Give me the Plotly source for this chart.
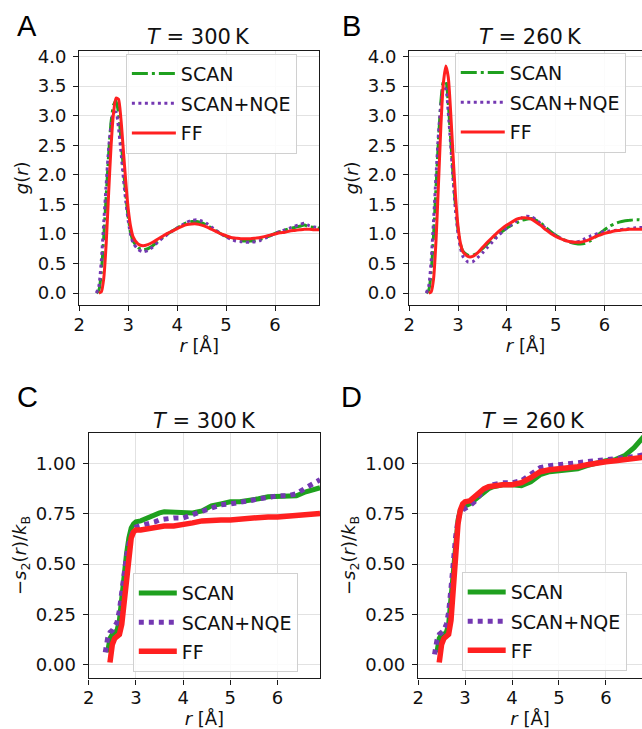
import plotly.graph_objects as go

# ---------------- data ----------------
r_g = [2.35, 2.40, 2.45, 2.50, 2.55, 2.60, 2.65, 2.70, 2.75, 2.80, 2.85, 2.90, 2.95, 3.00, 3.05, 3.10,
       3.20, 3.30, 3.40, 3.50, 3.60, 3.70, 3.80, 3.90, 4.00, 4.10, 4.20, 4.30, 4.40, 4.50, 4.60, 4.70,
       4.80, 4.90, 5.00, 5.10, 5.20, 5.30, 5.40, 5.50, 5.60, 5.70, 5.80, 5.90, 6.00, 6.10, 6.20, 6.30,
       6.40, 6.50, 6.60, 6.70, 6.80, 6.90]

g300_scan = [0.0, 0.05, 0.35, 0.95, 1.65, 2.35, 2.90, 3.18, 3.25, 3.05, 2.62, 2.12, 1.66, 1.28, 1.02, 0.88,
             0.77, 0.73, 0.75, 0.80, 0.87, 0.94, 1.00, 1.05, 1.10, 1.15, 1.19, 1.21, 1.21, 1.19, 1.15, 1.10,
             1.05, 1.00, 0.96, 0.93, 0.91, 0.89, 0.88, 0.88, 0.89, 0.91, 0.94, 0.97, 1.01, 1.04, 1.07, 1.09,
             1.11, 1.13, 1.15, 1.12, 1.11, 1.10]
g300_nqe = [0.0, 0.12, 0.55, 1.20, 1.85, 2.45, 2.85, 3.05, 3.06, 2.80, 2.40, 1.95, 1.55, 1.22, 0.98, 0.85,
            0.74, 0.70, 0.72, 0.78, 0.86, 0.93, 0.99, 1.05, 1.10, 1.15, 1.20, 1.23, 1.24, 1.22, 1.18, 1.12,
            1.06, 1.00, 0.95, 0.91, 0.88, 0.87, 0.86, 0.86, 0.87, 0.89, 0.93, 0.97, 1.01, 1.04, 1.07, 1.10,
            1.13, 1.16, 1.18, 1.14, 1.12, 1.11]
g300_ff = [None, 0.0, 0.02, 0.25, 0.85, 1.70, 2.50, 3.05, 3.30, 3.28, 2.95, 2.42, 1.88, 1.42, 1.12, 0.95,
           0.83, 0.80, 0.82, 0.86, 0.91, 0.96, 1.01, 1.05, 1.09, 1.13, 1.16, 1.17, 1.17, 1.15, 1.12, 1.08,
           1.04, 1.00, 0.97, 0.94, 0.93, 0.92, 0.92, 0.92, 0.93, 0.94, 0.96, 0.98, 1.00, 1.02, 1.03, 1.05,
           1.06, 1.07, 1.08, 1.08, 1.07, 1.07]

g260_scan = [0.0, 0.05, 0.35, 1.00, 1.80, 2.60, 3.25, 3.57, 3.58, 3.20, 2.60, 1.98, 1.45, 1.07, 0.83, 0.71,
             0.64, 0.64, 0.68, 0.75, 0.83, 0.91, 0.98, 1.04, 1.10, 1.15, 1.19, 1.23, 1.25, 1.26, 1.23, 1.18,
             1.11, 1.04, 0.98, 0.93, 0.89, 0.86, 0.84, 0.83, 0.84, 0.88, 0.94, 1.01, 1.07, 1.13, 1.17, 1.20,
             1.22, 1.23, 1.24, 1.24, 1.23, 1.23]
g260_nqe = [0.0, 0.12, 0.55, 1.25, 2.00, 2.70, 3.20, 3.48, 3.45, 3.05, 2.50, 1.90, 1.38, 1.00, 0.76, 0.62,
            0.53, 0.53, 0.60, 0.68, 0.77, 0.86, 0.95, 1.03, 1.10, 1.16, 1.22, 1.27, 1.30, 1.29, 1.24, 1.17,
            1.09, 1.02, 0.97, 0.93, 0.89, 0.87, 0.86, 0.88, 0.92, 0.96, 0.99, 1.02, 1.04, 1.05, 1.06, 1.07,
            1.08, 1.09, 1.10, 1.11, 1.11, 1.11]
g260_ff = [None, 0.0, 0.02, 0.25, 0.90, 1.85, 2.85, 3.55, 3.84, 3.65, 3.05, 2.30, 1.62, 1.13, 0.84, 0.70,
           0.62, 0.62, 0.68, 0.77, 0.86, 0.94, 1.02, 1.09, 1.15, 1.20, 1.25, 1.27, 1.27, 1.25, 1.20, 1.14,
           1.07, 1.01, 0.96, 0.92, 0.89, 0.87, 0.86, 0.86, 0.88, 0.91, 0.95, 0.98, 1.01, 1.03, 1.05, 1.06,
           1.07, 1.08, 1.08, 1.08, 1.08, 1.08]

r_s = [2.35, 2.40, 2.45, 2.50, 2.55, 2.60, 2.65, 2.70, 2.75, 2.80, 2.85, 2.90, 2.95, 3.00,
       3.10, 3.20, 3.30, 3.40, 3.50, 3.60,
       3.80, 4.00, 4.20, 4.40, 4.60, 4.80, 5.00, 5.20, 5.40, 5.60, 5.80, 6.00, 6.20, 6.40, 6.60, 6.80, 6.90]

s300_scan = [None, 0.06, 0.13, 0.15, 0.16, 0.17, 0.22, 0.34, 0.45, 0.55, 0.63, 0.68, 0.70, 0.71,
             0.715, 0.725, 0.74, 0.75, 0.755, 0.76,
             0.76, 0.76, 0.755, 0.765, 0.79, 0.80, 0.81, 0.81, 0.815, 0.825, 0.835, 0.835, 0.835, 0.84, 0.86, 0.87, 0.88]
s300_nqe = [0.06, 0.13, 0.16, 0.17, 0.19, 0.21, 0.27, 0.37, 0.46, 0.54, 0.60, 0.65, 0.675, 0.685,
            0.69, 0.70, 0.705, 0.71, 0.72, 0.725,
            0.73, 0.73, 0.745, 0.76, 0.78, 0.795, 0.80, 0.805, 0.815, 0.825, 0.835, 0.84, 0.84, 0.85, 0.88, 0.91, 0.92]
s300_ff = [None, None, 0.01, 0.10, 0.13, 0.14, 0.15, 0.20, 0.32, 0.45, 0.56, 0.63, 0.66, 0.67,
           0.67, 0.675, 0.68, 0.685, 0.69, 0.69,
           0.69, 0.695, 0.705, 0.715, 0.72, 0.72, 0.72, 0.725, 0.73, 0.73, 0.735, 0.735, 0.74, 0.74, 0.745, 0.75, 0.752]

s260_scan = [None, 0.06, 0.13, 0.15, 0.15, 0.16, 0.20, 0.33, 0.48, 0.62, 0.72, 0.77, 0.785, 0.79,
             0.80, 0.82, 0.84, 0.86, 0.875, 0.885,
             0.895, 0.895, 0.89, 0.91, 0.945, 0.96, 0.965, 0.965, 0.975, 0.99, 1.005, 1.015, 1.02, 1.04, 1.08, 1.13, 1.16]
s260_nqe = [0.05, 0.12, 0.15, 0.16, 0.17, 0.20, 0.26, 0.38, 0.52, 0.64, 0.72, 0.76, 0.77, 0.775,
            0.79, 0.81, 0.84, 0.87, 0.885, 0.895,
            0.905, 0.905, 0.915, 0.945, 0.98, 0.99, 0.995, 0.995, 1.0, 1.005, 1.01, 1.015, 1.02, 1.025, 1.035, 1.045, 1.05]
s260_ff = [None, None, 0.01, 0.10, 0.13, 0.14, 0.15, 0.22, 0.40, 0.58, 0.70, 0.77, 0.80, 0.81,
           0.815, 0.835, 0.855, 0.875, 0.885, 0.89,
           0.895, 0.895, 0.905, 0.93, 0.96, 0.97, 0.975, 0.975, 0.985, 0.995, 1.005, 1.01, 1.015, 1.02, 1.025, 1.03, 1.035]

series_names = ["SCAN", "SCAN+NQE", "FF"]
panel_titles = ["<i>T</i> = 300\u2009K", "<i>T</i> = 260\u2009K",
                "<i>T</i> = 300\u2009K", "<i>T</i> = 260\u2009K"]
panel_letters = ["A", "B", "C", "D"]
g_ticks = [0.0, 0.5, 1.0, 1.5, 2.0, 2.5, 3.0, 3.5, 4.0]
s_ticks = [0.0, 0.25, 0.5, 0.75, 1.0]
r_ticks = [2, 3, 4, 5, 6]

# ---------------- styling ----------------
W, H = 642, 729
GREEN, PURPLE, RED = "#1fa01f", "#7438b2", "#ff2020"
FONT = "DejaVu Sans"


def fx(p):
    return p / W


def fy(p):
    return 1 - p / H


fig = go.Figure()

g_styles = [
    dict(color=GREEN, width=3, dash="16px,4px,3px,4px"),
    dict(color=PURPLE, width=3, dash="3px,3.5px"),
    dict(color=RED, width=3),
]
s_styles = [
    dict(color=GREEN, width=5),
    dict(color=PURPLE, width=5, dash="5px,5px"),
    dict(color=RED, width=5.5),
]

panels = [
    ("x", "y", "legend", r_g, [g300_scan, g300_nqe, g300_ff], g_styles, "spline"),
    ("x2", "y2", "legend2", r_g, [g260_scan, g260_nqe, g260_ff], g_styles, "spline"),
    ("x3", "y3", "legend3", r_s, [s300_scan, s300_nqe, s300_ff], s_styles, "linear"),
    ("x4", "y4", "legend4", r_s, [s260_scan, s260_nqe, s260_ff], s_styles, "linear"),
]

for pi, (xa, ya, lg, xs, ys_list, styles, shape) in enumerate(panels):
    for name, ys, st in zip(series_names, ys_list, styles):
        line = dict(st, shape=shape)
        if shape == "spline":
            line["smoothing"] = 0.6
        fig.add_trace(go.Scatter(
            x=xs, y=ys, mode="lines", name=name, line=line,
            xaxis=xa, yaxis=ya, legend=lg, legendgroup=f"{lg}-{name}",
        ))

axis_common = dict(
    showline=True, linecolor="#1a1a1a", linewidth=1.4,
    ticks="outside", ticklen=5, tickwidth=1.2, tickcolor="#1a1a1a",
    showgrid=True, gridcolor="#e2e2e2", gridwidth=1, zeroline=False,
    tickfont=dict(family=FONT, size=18, color="#111111"),
    title_font=dict(family=FONT, size=18, color="#111111"),
)
xa_extra = dict(ticklabelstandoff=-2)
ya_extra = dict(ticklabelstandoff=3)

xtitle = "<i>r</i> [Å]"
gtitle = "<i>g</i>(<i>r</i>)"
stitle = "−<i>s</i><sub>2</sub>(<i>r</i>)/<i>k</i><sub>B</sub>"

layout_axes = dict(
    xaxis=dict(axis_common, **xa_extra, domain=[fx(74), fx(316)], range=[2, 6.9], anchor="y",
               tickvals=r_ticks, mirror=True, title=dict(text=xtitle, standoff=3)),
    yaxis=dict(axis_common, **ya_extra, domain=[fy(302), fy(46)], range=[-0.2, 4.1], anchor="x",
               tickvals=g_ticks, tickformat=".1f", mirror=True, title=dict(text=gtitle, standoff=4)),
    xaxis2=dict(axis_common, **xa_extra, domain=[fx(407), 1.0], range=[2, 2 + (642 - 407) / 49.3], anchor="y2",
                tickvals=r_ticks, mirror=True, title=dict(text=xtitle, standoff=3)),
    yaxis2=dict(axis_common, **ya_extra, domain=[fy(302), fy(46)], range=[-0.2, 4.1], anchor="x2",
                tickvals=g_ticks, tickformat=".1f", title=dict(text=gtitle, standoff=4)),
    xaxis3=dict(axis_common, **xa_extra, domain=[fx(83.5), fx(317)], range=[2, 6.9], anchor="y3",
                tickvals=r_ticks, mirror=True, title=dict(text=xtitle, standoff=3)),
    yaxis3=dict(axis_common, **ya_extra, domain=[fy(678), fy(430.5)], range=[-0.069, 1.155], anchor="x3",
                tickvals=s_ticks, tickformat=".2f", mirror=True, title=dict(text=stitle, standoff=4)),
    xaxis4=dict(axis_common, **xa_extra, domain=[fx(416), 1.0], range=[2, 2 + (642 - 416) / 47.4], anchor="y4",
                tickvals=r_ticks, mirror=True, title=dict(text=xtitle, standoff=3)),
    yaxis4=dict(axis_common, **ya_extra, domain=[fy(678), fy(430.5)], range=[-0.069, 1.155], anchor="x4",
                tickvals=s_ticks, tickformat=".2f", title=dict(text=stitle, standoff=4)),
)

legend_common = dict(
    xanchor="left", yanchor="top", traceorder="grouped",
    font=dict(family=FONT, size=19, color="#111111"),
    bgcolor="rgba(255,255,255,0.85)", bordercolor="#d0d0d0", borderwidth=1,
)
legends = dict(
    legend=dict(legend_common, x=fx(121), y=fy(49), itemwidth=44, tracegroupgap=2),
    legend2=dict(legend_common, x=fx(453), y=fy(48), itemwidth=44, tracegroupgap=2),
    legend3=dict(legend_common, x=fx(128), y=fy(572), itemwidth=38, tracegroupgap=1.5),
    legend4=dict(legend_common, x=fx(460), y=fy(571), itemwidth=38, tracegroupgap=1.5),
)

annotations = []
title_pos = [(194, 32), (529.5, 32), (200, 419), (532.5, 419)]
for txt, (px, py) in zip(panel_titles, title_pos):
    annotations.append(dict(text=txt, x=fx(px), y=fy(py), xref="paper", yref="paper",
                            xanchor="center", yanchor="middle", showarrow=False,
                            font=dict(family=FONT, size=21, color="#111111")))
letter_pos = [(21, 21), (349, 21), (21.5, 395), (349, 395)]
for txt, (px, py) in zip(panel_letters, letter_pos):
    annotations.append(dict(text=txt, x=fx(px), y=fy(py), xref="paper", yref="paper",
                            xanchor="center", yanchor="middle", showarrow=False,
                            font=dict(family="Liberation Sans", size=29, color="#000000")))

fig.update_layout(
    width=W, height=H,
    margin=dict(l=0, r=0, t=0, b=0),
    paper_bgcolor="white", plot_bgcolor="white",
    showlegend=True,
    annotations=annotations,
    **layout_axes, **legends,
)

fig.write_html("out.html")
